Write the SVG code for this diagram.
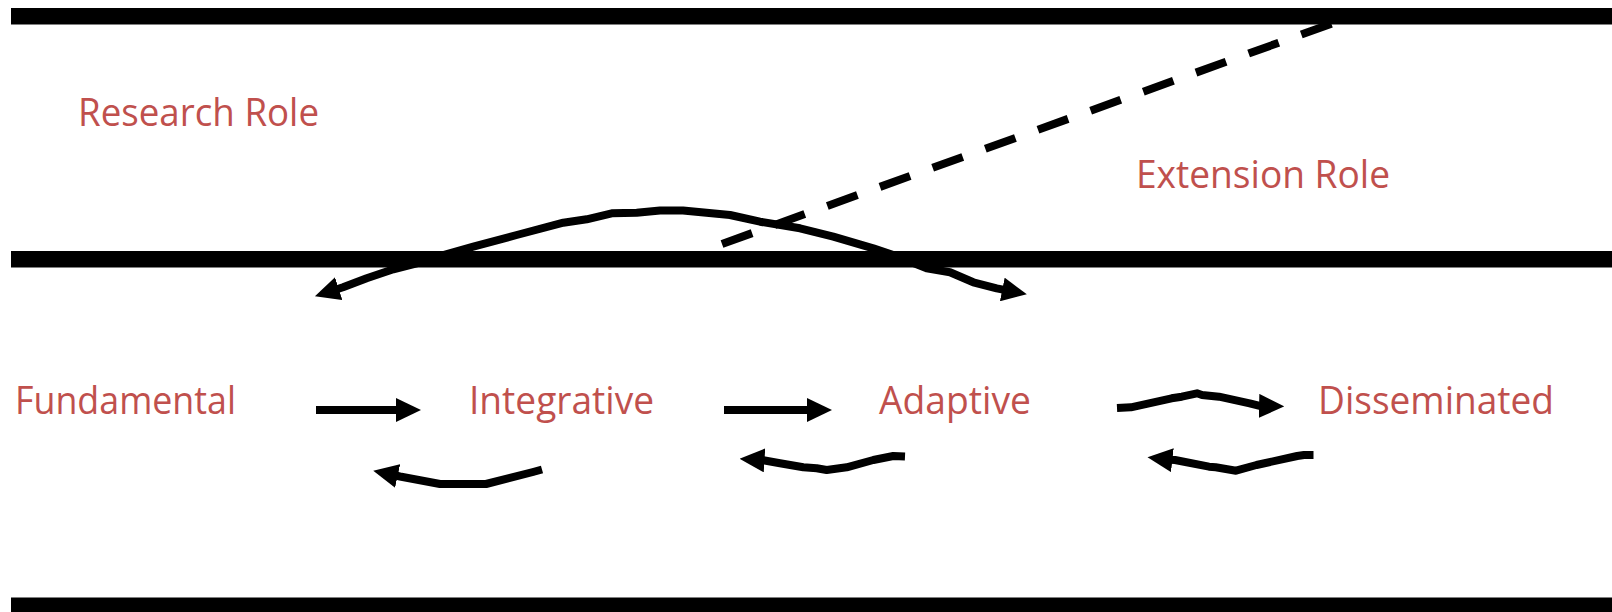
<svg xmlns="http://www.w3.org/2000/svg" width="1612" height="612" viewBox="0 0 1612 612">
  <style>
    .lbl { font-family: "Open Sans", "Noto Sans", "Liberation Sans", sans-serif; font-size: 38px; fill: #C0504D; }
    .band { fill: #000000; }
    .conn { fill: none; stroke: #000000; stroke-width: 8; stroke-linejoin: round; stroke-linecap: butt; }
    .dash { fill: none; stroke: #000000; stroke-width: 8; stroke-dasharray: 32 24; }
  </style>
  <defs>
    <marker id="head" viewBox="0 0 25 24" markerWidth="25" markerHeight="24" refX="6" refY="12" markerUnits="userSpaceOnUse" orient="auto-start-reverse">
      <path d="M0,0 L25,12 L0,24 z" fill="#000000"/>
    </marker>
  </defs>
  <rect width="1612" height="612" fill="#FFFFFF"/>

  <g id="bands">
    <rect class="band" x="11" y="8" width="1601" height="16.5"/>
    <rect class="band" x="11" y="251" width="1601" height="16.5"/>
    <rect class="band" x="11" y="597.5" width="1601" height="16.5"/>
  </g>

  <g id="connectors">
    <line class="dash" x1="722" y1="244" x2="1336" y2="22"/>
    <path class="conn" marker-start="url(#head)" marker-end="url(#head)" d="M333,290.5 L343,287.3 L366.7,278.3 L393.3,269.3 L416.7,263.3 L443.3,255 L473.3,246.7 L516.7,235 L563.3,222.7 L586.7,219.3 L611.7,213.3 L636.7,212.7 L660,210.5 L683,210.5 L730,215 L760,221.7 L800,228.3 L833.3,236.7 L873.3,248.3 L893.3,255 L926.7,268.3 L950,272.3 L973.3,282.3 L996.7,288.3 L1008.2,290.6"/>
    <path class="conn" marker-end="url(#head)" d="M316,410 L402,410"/>
    <path class="conn" marker-end="url(#head)" d="M724,410 L813,410"/>
    <path class="conn" marker-end="url(#head)" d="M542,469.5 L533,472 L486,484 L440,484 L400,476.5 L391.8,474.7"/>
    <path class="conn" marker-end="url(#head)" d="M905,456.5 L893.3,456 L873.3,460 L846.7,467.3 L826.7,470 L816.7,468.3 L803.3,467.3 L780,463.3 L763.3,460.3 L758.5,460"/>
    <path class="conn" marker-end="url(#head)" d="M1117,408 L1130.9,407.3 L1171.6,398.3 L1181.8,396.7 L1197,393.3 L1202,395 L1219,396.7 L1249.7,403.3 L1259.8,405.9 L1265.1,406"/>
    <path class="conn" marker-end="url(#head)" d="M1313.5,455 L1304,455 L1297.2,456 L1256.5,465 L1236,470.7 L1215.7,467.3 L1209,466.7 L1175,460 L1169,459.8 L1166.4,459.5"/>
  </g>

  <g id="research-role"><text class="lbl" x="78" y="125.5" textLength="241" lengthAdjust="spacingAndGlyphs">Research Role</text></g>
  <g id="extension-role"><text class="lbl" x="1136" y="188" textLength="254" lengthAdjust="spacingAndGlyphs">Extension Role</text></g>
  <g id="fundamental"><text class="lbl" x="15" y="414" textLength="221" lengthAdjust="spacingAndGlyphs">Fundamental</text></g>
  <g id="integrative"><text class="lbl" x="469" y="414" textLength="185" lengthAdjust="spacingAndGlyphs">Integrative</text></g>
  <g id="adaptive"><text class="lbl" x="879" y="414" textLength="152" lengthAdjust="spacingAndGlyphs">Adaptive</text></g>
  <g id="disseminated"><text class="lbl" x="1318" y="413.5" textLength="236" lengthAdjust="spacingAndGlyphs">Disseminated</text></g>
</svg>
